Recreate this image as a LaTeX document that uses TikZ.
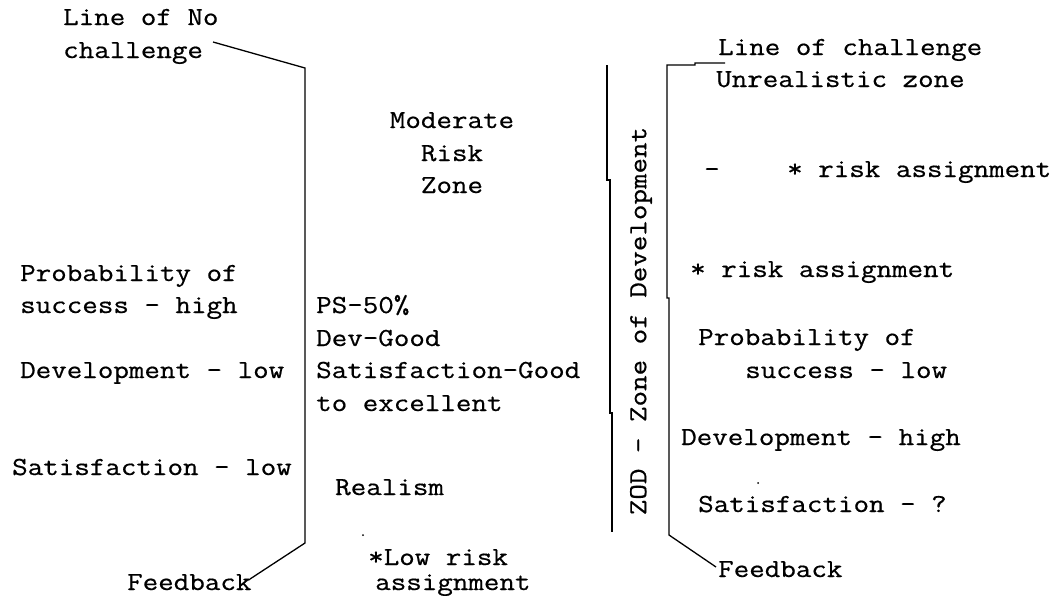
\documentclass[tikz,border=0pt]{standalone}
\usepackage{fontspec}
\newfontfamily\courf[FakeStretch=1.16,FakeBold=0.6]{Latin Modern Mono}
\begin{document}
\begin{tikzpicture}[x=1pt,y=-1pt,
  txt/.style={font=\courf\fontsize{26}{32}\selectfont, inner sep=0pt, anchor=base west},
  ctxt/.style={font=\courf\fontsize{26}{32}\selectfont, inner sep=0pt, anchor=base},
  ln/.style={line width=1.3pt, black}]
\useasboundingbox[fill=white] (0,0) rectangle (1059,595);
% left column
\node[txt] (l1) at (63,25) {Line of No};
\node[txt] (chal) at (63,58) {challenge};
\node[txt] (pl1) at (20,281) {Probability of};
\node[txt] (pl2) at (20,313) {success - high};
\node[txt] (dl) at (20,378) {Development - low};
\node[txt] (sl) at (12,475) {Satisfaction - low};
\node[txt] (fbl) at (127,590) {Feedback};
% middle column
\node[ctxt] (m1) at (452,128) {Moderate};
\node[ctxt] (m2) at (452,161) {Risk};
\node[ctxt] (m3) at (452,193) {Zone};
\node[txt] (ps) at (316,313) {PS-50\%};
\node[txt] (dg) at (316,346) {Dev-Good};
\node[txt] (sg) at (316,378) {Satisfaction-Good};
\node[txt] (te) at (316,411) {to excellent};
\node[txt] (re) at (335,495) {Realism};
\node[txt] (lr1) at (368,565) {*Low risk};
\node[txt] (lr2) at (375,590) {assignment};
\fill (363,535) circle (1pt);
% ZOD
\node[font=\courf\fontsize{26}{32}\selectfont, inner sep=0pt, rotate=90] (zod) at (641,321) {ZOD - Zone of Development};
\coordinate (z1) at (607,65);
\coordinate (z2) at (607,180);
\coordinate (z3) at (610,180);
\coordinate (z4) at (610,413);
\coordinate (z5) at (612,413);
\coordinate (z6) at (612,532);
\draw[ln] (z1) -- (z2) -- (z3) -- (z4) -- (z5) -- (z6);
% right column
\node[txt] (lc) at (718,55) {Line of challenge};
\node[txt] (uz) at (716,87) {Unrealistic zone};
\node[txt] (dash) at (704,177) {-};
\node[txt] (ra1) at (787,177) {* risk assignment};
\node[txt] (ra2) at (690,277) {* risk assignment};
\node[txt] (pr1) at (698,345) {Probability of};
\node[txt] (pr2) at (745,378) {success - low};
\node[txt] (dh) at (681,445) {Development - high};
\node[txt] (sq) at (698,512) {Satisfaction - ?};
\node[txt] (fbr) at (718,577) {Feedback};
\fill (758,483) circle (1pt);
% left bracket
\coordinate (a1) at (213,42);
\coordinate (a2) at (305,68);
\coordinate (a3) at (305,543);
\coordinate (a4) at (250,579);
\draw[ln] (a1) -- (a2) -- (a3) -- (a4);
% right bracket
\coordinate (b0) at (725,63);
\coordinate (b1) at (695,63);
\coordinate (b2) at (695,65);
\coordinate (b3) at (667,65);
\coordinate (b4) at (667,298);
\coordinate (b5) at (669,298);
\coordinate (b6) at (669,535);
\coordinate (b7) at (716,567);
\draw[ln] (b0) -- (b1) -- (b2) -- (b3) -- (b4) -- (b5) -- (b6) -- (b7);
\end{tikzpicture}
\end{document}
